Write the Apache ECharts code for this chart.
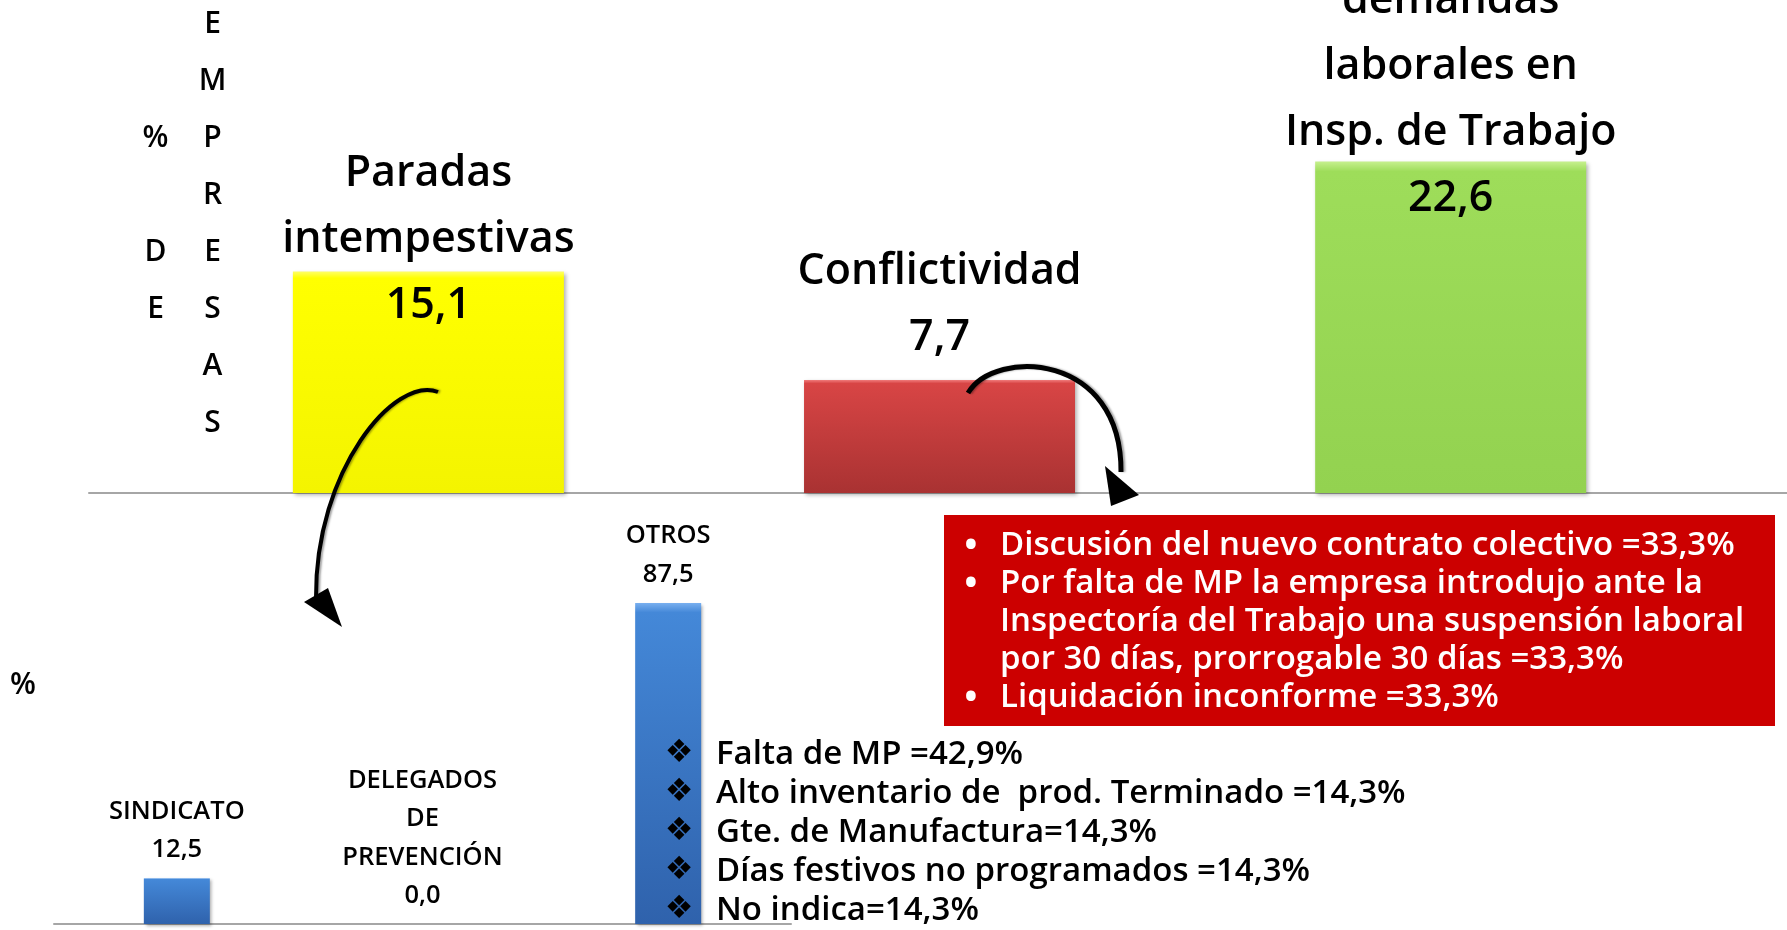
<!DOCTYPE html>
<html>
<head>
<meta charset="utf-8">
<title>% de empresas</title>
<script src="https://cdn.jsdelivr.net/npm/echarts@6.0.0/dist/echarts.min.js"></script>
<style>
html, body { margin: 0; padding: 0; background: #fff; }
#chart { width: 1787px; height: 930px; }
</style>
</head>
<body>
<div id="chart"></div>
<script>
// upper chart: % de empresas
var topCategories = ['Paradas\nintempestivas', 'Conflictividad', 'demandas\nlaborales en\nInsp. de Trabajo'];
var topValues = [15.1, 7.7, 22.6];

// lower chart: who caused the stops
var bottomCategories = ['SINDICATO', 'DELEGADOS\nDE\nPREVENCIÓN', 'OTROS'];
var bottomValues = [12.5, 0.0, 87.5];

// axis title written letter by letter, two columns
var axisLetters = [['', 'E'], ['', 'M'], ['%', 'P'], ['', 'R'], ['D', 'E'], ['E', 'S'], ['', 'A'], ['', 'S']];

var conflictNotes = [
  ['Discusión del nuevo contrato colectivo =33,3%'],
  ['Por falta de MP la empresa introdujo ante la', 'Inspectoría del Trabajo una suspensión laboral', 'por 30 días, prorrogable 30 días =33,3%'],
  ['Liquidación inconforme =33,3%']
];
var otrosNotes = [
  'Falta de MP =42,9%',
  'Alto inventario de  prod. Terminado =14,3%',
  'Gte. de Manufactura=14,3%',
  'Días festivos no programados =14,3%',
  'No indica=14,3%'
];

// styles
var topColors = [
  ['#FFFF66', '#FFFF00', '#F4F400'],
  ['#F07A7A', '#D84545', '#A93232'],
  ['#C6F08E', '#9EDD5A', '#93D250']
];
var topLabelShift = [72, -4, 75];
var blueBar = ['#7AB0F0', '#4488D8', '#2F62AC'];
var font = '"Open Sans", "Noto Sans", sans-serif';

function fmt(v) {
  return v.toFixed(1).replace('.', ',');
}

function grad(c) {
  return {
    type: 'linear', x: 0, y: 0, x2: 0, y2: 1,
    colorStops: [
      { offset: 0, color: c[0] },
      { offset: 0.03, color: c[1] },
      { offset: 1, color: c[2] }
    ]
  };
}

var chart = echarts.init(document.getElementById('chart'));

var topData = topValues.map(function (v, i) {
  return {
    value: [i, v],
    itemStyle: {
      color: grad(topColors[i]),
      shadowBlur: 4, shadowOffsetX: 2, shadowOffsetY: 2, shadowColor: 'rgba(0,0,0,0.3)'
    },
    label: { offset: [0, topLabelShift[i]] }
  };
});

var letterText = axisLetters.map(function (l) {
  return '{a|' + (l[0] || ' ') + '}{b|' + l[1] + '}';
}).join('\n');

// bullet texts for the red box
var boxBullets = [];
var boxLines = [];
conflictNotes.forEach(function (note) {
  note.forEach(function (line, k) {
    boxBullets.push(k === 0 ? '•' : ' ');
    boxLines.push(line);
  });
});

var letterStyle = { width: 57, align: 'center', fontSize: 30, lineHeight: 57, fontWeight: 600, fontFamily: font, color: '#000' };

var option = {
  backgroundColor: '#ffffff',
  animation: false,
  title: [
    {
      text: letterText,
      left: 127,
      top: -4,
      padding: 0,
      textStyle: { rich: { a: letterStyle, b: letterStyle } }
    },
    {
      text: '%',
      left: 10,
      top: 670,
      padding: 0,
      textStyle: { fontSize: 30, fontWeight: 600, fontFamily: font, color: '#000' }
    }
  ],
  grid: [
    { left: 89, right: 0, top: 53, bottom: 437, outerBoundsMode: 'none' },
    { left: 54, right: 996, top: 557, bottom: 6, outerBoundsMode: 'none' }
  ],
  xAxis: [
    {
      type: 'value', gridIndex: 0, min: -0.664, max: 2.658,
      axisLine: { show: true, lineStyle: { color: '#A6A6A6', width: 2 } },
      axisTick: { show: false }, axisLabel: { show: false }, splitLine: { show: false }
    },
    {
      type: 'category', gridIndex: 1, data: bottomCategories,
      axisLine: { show: true, lineStyle: { color: '#A6A6A6', width: 2 } },
      axisTick: { show: false }, axisLabel: { show: false }
    }
  ],
  yAxis: [
    { type: 'value', gridIndex: 0, min: 0, max: 30, show: false },
    { type: 'value', gridIndex: 1, min: 0, max: 100, show: false }
  ],
  series: [
    {
      type: 'bar',
      xAxisIndex: 0, yAxisIndex: 0,
      barWidth: 271,
      data: topData,
      label: {
        show: true,
        position: 'top',
        distance: 5,
        fontSize: 43,
        lineHeight: 66,
        fontWeight: 600,
        fontFamily: font,
        color: '#000',
        formatter: function (p) {
          return topCategories[p.dataIndex] + '\n' + fmt(p.value[1]);
        }
      }
    },
    {
      type: 'bar',
      xAxisIndex: 1, yAxisIndex: 1,
      barWidth: 66,
      data: bottomValues,
      itemStyle: {
        color: grad(blueBar),
        shadowBlur: 3, shadowOffsetX: 2, shadowOffsetY: 2, shadowColor: 'rgba(0,0,0,0.3)'
      },
      label: {
        show: true,
        position: 'top',
        distance: 5,
        offset: [0, -4],
        fontSize: 25.5,
        lineHeight: 38.5,
        fontWeight: 600,
        fontFamily: font,
        color: '#000',
        formatter: function (p) {
          return bottomCategories[p.dataIndex] + '\n' + fmt(p.value);
        }
      }
    }
  ],
  graphic: [
    {
      type: 'rect', z: 50,
      shape: { x: 944, y: 515, width: 831, height: 211 },
      style: { fill: '#CC0000' }
    },
    {
      type: 'text', z: 51, x: 971, y: 527,
      style: {
        text: boxBullets.join('\n'), fill: '#fff', align: 'center', verticalAlign: 'top',
        fontSize: 34, lineHeight: 38, fontWeight: 'bold', fontFamily: font
      }
    },
    {
      type: 'text', z: 51, x: 1000, y: 527,
      style: {
        text: boxLines.join('\n'), fill: '#fff', verticalAlign: 'top',
        fontSize: 33, lineHeight: 38, fontWeight: 600, fontFamily: font
      }
    },
    {
      type: 'text', z: 51, x: 679, y: 734,
      style: {
        text: otrosNotes.map(function () { return '❖'; }).join('\n'),
        fill: '#000', align: 'center', verticalAlign: 'top',
        fontSize: 32, lineHeight: 39, fontFamily: '"DejaVu Sans", sans-serif'
      }
    },
    {
      type: 'text', z: 51, x: 716, y: 735,
      style: {
        text: otrosNotes.join('\n'), fill: '#000', verticalAlign: 'top',
        fontSize: 33, lineHeight: 39, fontWeight: 600, fontFamily: font
      }
    },
    // curved arrows
    {
      type: 'bezierCurve', z: 60,
      shape: { x1: 438, y1: 392, cpx1: 395, cpy1: 375, cpx2: 315, cpy2: 470, x2: 316, y2: 598 },
      style: { stroke: '#000', lineWidth: 4, fill: null, shadowBlur: 2, shadowOffsetX: 2, shadowColor: 'rgba(0,0,0,0.35)' }
    },
    {
      type: 'polygon', z: 60,
      shape: { points: [[304, 602], [328, 588], [342, 627]] },
      style: { fill: '#000' }
    },
    {
      type: 'bezierCurve', z: 60,
      shape: { x1: 968, y1: 393, cpx1: 995, cpy1: 348, cpx2: 1122, cpy2: 352, x2: 1121, y2: 472 },
      style: { stroke: '#000', lineWidth: 5, fill: null, shadowBlur: 2, shadowOffsetX: 2, shadowColor: 'rgba(0,0,0,0.35)' }
    },
    {
      type: 'polygon', z: 60,
      shape: { points: [[1105, 466], [1139, 495], [1111, 506]] },
      style: { fill: '#000' }
    }
  ]
};

chart.setOption(option);
</script>
</body>
</html>
